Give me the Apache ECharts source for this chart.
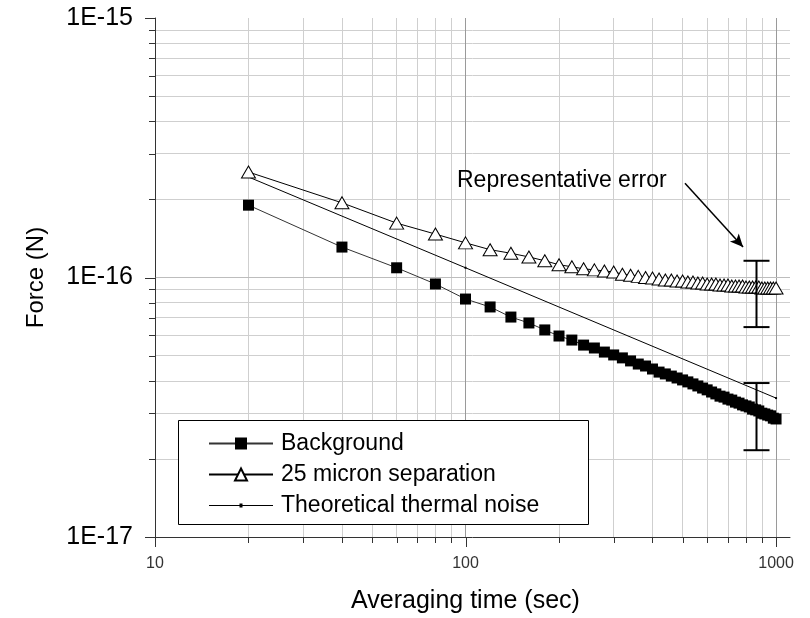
<!DOCTYPE html>
<html>
<head>
<meta charset="utf-8">
<script src="https://cdn.jsdelivr.net/npm/echarts@6/dist/echarts.min.js"></script>
<style>
html,body{margin:0;padding:0;background:#fff;}
#chart{width:810px;height:618px;}
</style>
</head>
<body>
<div id="chart"></div>
<script>
// ---- data (averaging time in s, force in N) ----
const times = [20,40,60,80,100,120,140,160,180,200,220,240,260,280,300,320,340,360,380,400,
  420,440,460,480,500,520,540,560,580,600,620,640,660,680,700,720,740,760,780,800,
  820,840,860,880,900,920,940,960,980,1000];
const backgroundForce = [1.90e-16,1.31e-16,1.09e-16,9.44e-17,8.26e-17,7.70e-17,7.04e-17,6.68e-17,6.28e-17,5.95e-17,
  5.74e-17,5.49e-17,5.35e-17,5.16e-17,5.03e-17,4.90e-17,4.77e-17,4.64e-17,4.56e-17,4.44e-17,
  4.32e-17,4.25e-17,4.17e-17,4.10e-17,4.03e-17,3.96e-17,3.89e-17,3.82e-17,3.75e-17,3.69e-17,
  3.62e-17,3.56e-17,3.49e-17,3.46e-17,3.40e-17,3.37e-17,3.31e-17,3.28e-17,3.23e-17,3.20e-17,
  3.17e-17,3.11e-17,3.09e-17,3.06e-17,3.00e-17,2.98e-17,2.95e-17,2.93e-17,2.87e-17,2.85e-17];
const separationForce = [2.55e-16,1.94e-16,1.62e-16,1.47e-16,1.36e-16,1.28e-16,1.24e-16,1.20e-16,1.16e-16,1.12e-16,
  1.10e-16,1.08e-16,1.07e-16,1.06e-16,1.05e-16,1.03e-16,1.02e-16,1.01e-16,1.00e-16,9.96e-17,
  9.87e-17,9.78e-17,9.78e-17,9.69e-17,9.69e-17,9.61e-17,9.61e-17,9.52e-17,9.52e-17,9.44e-17,
  9.44e-17,9.44e-17,9.36e-17,9.36e-17,9.36e-17,9.27e-17,9.27e-17,9.27e-17,9.27e-17,9.19e-17,
  9.19e-17,9.19e-17,9.19e-17,9.19e-17,9.11e-17,9.11e-17,9.11e-17,9.11e-17,9.11e-17,9.11e-17];
const theoryTimes = [20, 100, 1000];
const theoryForce = [2.44e-16, 1.09e-16, 3.43e-17];
const errorTimes = [860, 860];
const errorHigh = [1.16e-16, 3.92e-17];
const errorLow = [6.44e-17, 2.16e-17];
const arrowFrom = [509, 2.31e-16];
const arrowTo = [783, 1.31e-16];
const seriesNames = ['Background', '25 micron separation', 'Theoretical thermal noise'];
const xTickLabels = ['10', '100', '1000'];
const yTickLabels = ['1E-17', '1E-16', '1E-15'];
const xTickValues = [10,20,30,40,50,60,70,80,90,100,200,300,400,500,600,700,800,900,1000];
const yTickValues = [1e-17,2e-17,3e-17,4e-17,5e-17,6e-17,7e-17,8e-17,9e-17,1e-16,
  2e-16,3e-16,4e-16,5e-16,6e-16,7e-16,8e-16,9e-16,1e-15];
const xMinorGrid = [20,30,40,50,60,70,80,90,200,300,400,500,600,700,800,900];
const xMajorGrid = [100, 1000];
const yMinorGrid = [2e-17,3e-17,4e-17,5e-17,6e-17,7e-17,8e-17,9e-17,2e-16,3e-16,4e-16,5e-16,6e-16,7e-16,8e-16,9e-16];
const yMajorGrid = [1e-16];

// force is plotted in units of 1e-17 N (avoids rounding of tiny log ticks)
const UNIT = 1e-17;
const u = v => v / UNIT;
const FONT = 'Liberation Sans, Arial, Helvetica, sans-serif';

const chart = echarts.init(document.getElementById('chart'), null, {renderer: 'canvas'});

function isPow10(v) {
  const l = Math.log10(v);
  return Math.abs(l - Math.round(l)) < 1e-6;
}

const option = {
  backgroundColor: '#fff',
  animation: false,
  grid: {left: 155, top: 18, right: 20, bottom: 81, outerBoundsMode: 'none', containLabel: false},
  xAxis: {
    type: 'log', logBase: 10, min: 10, max: 1109,
    name: 'Averaging time (sec)', nameLocation: 'middle', nameGap: 52,
    nameTextStyle: {fontSize: 25, fontFamily: FONT, color: '#000', padding: [0, 14, 0, 0]},
    axisLine: {show: true, lineStyle: {color: '#333', width: 1}},
    axisTick: {show: false},
    splitLine: {show: false},
    minorTick: {show: false},
    axisLabel: {
      margin: 19, fontSize: 16, fontFamily: FONT, color: '#333', showMaxLabel: false,
      formatter: v => isPow10(v) ? xTickLabels[Math.round(Math.log10(v)) - 1] : ''
    },
    z: 3
  },
  yAxis: {
    type: 'log', logBase: 10, min: u(1e-17), max: u(1e-15),
    name: 'Force (N)', nameLocation: 'middle', nameGap: 107, nameRotate: 90,
    nameTextStyle: {fontSize: 24, fontFamily: FONT, color: '#000'},
    axisLine: {show: true, lineStyle: {color: '#333', width: 1}},
    axisTick: {show: false},
    splitLine: {show: false},
    minorTick: {show: false},
    axisLabel: {
      margin: 22, fontSize: 25, fontFamily: FONT, color: '#000',
      formatter: v => isPow10(v) ? yTickLabels[Math.round(Math.log10(v))] : ''
    },
    z: 3
  },
  legend: {
    left: 208, top: 432, orient: 'vertical', padding: 0,
    itemWidth: 64, itemHeight: 15, itemGap: 8,
    selectedMode: false,
    textStyle: {fontSize: 23, fontFamily: FONT, color: '#000', lineHeight: 22, padding: [0, 0, 0, 3]},
    data: [
      {name: seriesNames[0]},
      {name: seriesNames[1]},
      {name: seriesNames[2], icon: 'path://M0,1.5 L64,1.5 L64,2.5 L0,2.5 Z M30.5,0 L33.5,0 L33.5,4 L30.5,4 Z', itemStyle: {color: '#000'}}
    ],
    z: 6
  },
  graphic: [
    {type: 'rect', z: 5, silent: true,
     shape: {x: 178.5, y: 420.5, width: 410, height: 104},
     style: {fill: '#fff', stroke: '#000', lineWidth: 1}},
    {type: 'text', z: 5, silent: true, left: 457, top: 169,
     style: {text: 'Representative error', fontSize: 23, fontFamily: FONT, fill: '#000'}}
  ],
  series: [
    {
      name: 'grid', type: 'line', data: [], silent: true, z: 1,
      markLine: {
        silent: true, symbol: 'none', z: 1, animation: false,
        label: {show: false},
        lineStyle: {color: '#cfcfcf', type: 'solid', width: 1},
        emphasis: {disabled: true},
        data: [
          ...xMinorGrid.map(v => ({xAxis: v})),
          ...yMinorGrid.map(v => ({yAxis: u(v)})),
          ...xMajorGrid.map(v => ({xAxis: v, lineStyle: {color: '#9a9a9a', type: 'solid', width: 1}})),
          ...yMajorGrid.map(v => ({yAxis: u(v), lineStyle: {color: '#bdbdbd', type: 'solid', width: 1}}))
        ]
      }
    },
    {
      name: seriesNames[2], type: 'line', z: 2,
      data: theoryTimes.map((t, i) => [t, u(theoryForce[i])]),
      symbol: 'rect', symbolSize: 2, showSymbol: true,
      itemStyle: {color: '#000'},
      lineStyle: {color: '#000', width: 1}
    },
    {
      name: seriesNames[0], type: 'line', z: 3,
      data: times.map((t, i) => [t, u(backgroundForce[i])]),
      symbol: 'rect', symbolSize: 11,
      itemStyle: {color: '#000'},
      lineStyle: {color: '#333', width: 1}
    },
    {
      name: seriesNames[1], type: 'line', z: 3,
      data: times.map((t, i) => [t, u(separationForce[i])]),
      symbol: 'triangle', symbolSize: [14, 12],
      itemStyle: {color: '#fff', borderColor: '#000', borderWidth: 1},
      lineStyle: {color: '#000', width: 1}
    },
    {
      name: 'error', type: 'custom', z: 4,
      data: errorTimes.map((t, i) => [t, u(errorHigh[i]), u(errorLow[i])]),
      renderItem: (params, api) => {
        const top = api.coord([api.value(0), api.value(1)]);
        const bot = api.coord([api.value(0), api.value(2)]);
        const x = Math.round(top[0]) + 0.5;
        const hw = 13;
        const st = {stroke: '#000', lineWidth: 2};
        return {type: 'group', children: [
          {type: 'line', shape: {x1: x, y1: top[1], x2: x, y2: bot[1]}, style: st},
          {type: 'line', shape: {x1: x - hw, y1: top[1], x2: x + hw, y2: top[1]}, style: st},
          {type: 'line', shape: {x1: x - hw, y1: bot[1], x2: x + hw, y2: bot[1]}, style: st}
        ]};
      },
      markLine: {
        silent: true, symbol: ['none', 'arrow'], symbolSize: [9, 13], z: 6,
        label: {show: false},
        lineStyle: {color: '#000', width: 1.5, type: 'solid'},
        data: [[{coord: [arrowFrom[0], u(arrowFrom[1])]}, {coord: [arrowTo[0], u(arrowTo[1])]}]]
      }
    },
    {
      name: 'xticks', type: 'custom', z: 4, silent: true,
      data: xTickValues.map(v => [v, u(1e-17)]),
      renderItem: (params, api) => {
        const v = api.value(0);
        const p = api.coord([v, api.value(1)]);
        const len = isPow10(v) ? 10 : 6;
        const x = Math.round(p[0]) + 0.5;
        return {type: 'line', shape: {x1: x, y1: p[1], x2: x, y2: p[1] + len},
                style: {stroke: '#333', lineWidth: 1}};
      }
    },
    {
      name: 'yticks', type: 'custom', z: 4, silent: true,
      data: yTickValues.map(v => [10, u(v)]),
      renderItem: (params, api) => {
        const v = api.value(1);
        const p = api.coord([api.value(0), v]);
        const len = isPow10(v) ? 10 : 6;
        const y = Math.round(p[1]) + 0.5;
        return {type: 'line', shape: {x1: p[0], y1: y, x2: p[0] - len, y2: y},
                style: {stroke: '#333', lineWidth: 1}};
      }
    }
  ]
};
chart.setOption(option);
</script>
</body>
</html>
